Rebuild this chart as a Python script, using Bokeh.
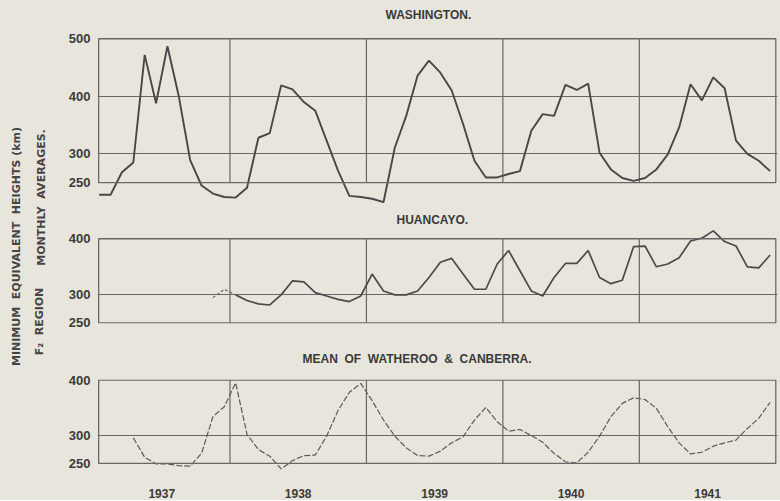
from bokeh.plotting import figure
from bokeh.layouts import row, column
from bokeh.models import FixedTicker, BoxAnnotation, Label, Range1d
from bokeh.embed import file_html
from bokeh.resources import INLINE

PAPER = "#e8e6dc"
INK = "#3a3a3a"
RULE = "#676767"
NAN = float("nan")

# ---- data (monthly averages, km) ----
months = list(range(1, 61))
years = ["1937", "1938", "1939", "1940", "1941"]
year_bounds = [12, 24, 36, 48]
year_centres = [6, 18, 30, 42, 54]

washington = [229, 229, 268, 285, 472, 388, 487, 400, 289, 245, 231, 225,
              224, 241, 328, 336, 419, 412, 390, 375, 323, 271, 227, 225,
              222, 216, 311, 366, 436, 462, 441, 410, 352, 288, 259, 259,
              265, 270, 340, 369, 366, 420, 411, 422, 302, 273, 258, 253,
              258, 273, 299, 346, 421, 393, 433, 414, 323, 300, 288, 270]

huancayo = [NAN, NAN, NAN, NAN, NAN, NAN, NAN, NAN, NAN, NAN, 295, 310,
            300, 290, 284, 282, 300, 325, 323, 304, 298, 292, 288, 298,
            337, 307, 300, 300, 307, 331, 358, 365, 337, 310, 310, 355,
            379, 343, 307, 298, 331, 356, 356, 379, 331, 320, 326, 386,
            387, 350, 355, 366, 396, 401, 414, 395, 387, 350, 348, 371]

watheroo_canberra = [NAN, NAN, NAN, 296, 261, 249, 249, 246, 245, 268, 334, 352,
                     395, 302, 275, 263, 240, 255, 264, 265, 299, 345, 378, 394,
                     363, 328, 299, 278, 264, 263, 272, 287, 298, 328, 351, 325,
                     308, 311, 300, 288, 268, 253, 251, 270, 299, 334, 358, 368,
                     365, 349, 316, 287, 267, 270, 281, 287, 292, 313, 331, 360]

wash_ticks = [250, 300, 400, 500]
huan_ticks = [250, 300, 400]
mean_ticks = [250, 300, 400]

x_pos = [m - 0.5 for m in months]
BOX_LO, BOX_HI = 0.45, 60          # extent of the ruled box (months)
X_LO, X_HI = 0.35, 60.15           # visible range, a hair wider so edges show


def panel(title, ticks, y_lo, y_hi, height, b_top, b_bottom, show_x,
          title_offset, title_standoff):
    p = figure(width=715, height=height, title=title,
               x_range=Range1d(X_LO, X_HI), y_range=Range1d(y_lo, y_hi),
               output_backend="svg", toolbar_location=None,
               x_axis_location="below" if show_x else None,
               min_border_left=30, min_border_right=3,
               min_border_top=b_top, min_border_bottom=b_bottom)
    p.outline_line_color = None
    p.background_fill_color = PAPER
    p.border_fill_color = PAPER
    p.title.align = "left"
    p.title.offset = title_offset
    p.title.standoff = title_standoff
    p.title.text_font = "Liberation Sans"
    p.title.text_font_size = "12px"
    p.title.text_font_style = "bold"
    p.title.text_color = INK

    p.yaxis.ticker = FixedTicker(ticks=ticks)
    p.yaxis.axis_line_color = None
    p.yaxis.major_tick_line_color = None
    p.yaxis.minor_tick_line_color = None
    p.yaxis.major_tick_out = 0
    p.yaxis.major_tick_in = 0
    p.yaxis.minor_tick_out = 0
    p.yaxis.major_label_standoff = 7
    p.yaxis.major_label_text_font = "Liberation Sans"
    p.yaxis.major_label_text_font_size = "13px"
    p.yaxis.major_label_text_font_style = "bold"
    p.yaxis.major_label_text_color = INK

    p.xgrid.visible = False
    p.ygrid.ticker = FixedTicker(ticks=ticks[1:-1])
    p.ygrid.grid_line_color = RULE
    p.ygrid.grid_line_width = 1

    if show_x:
        p.xaxis.ticker = FixedTicker(ticks=year_centres)
        p.xaxis.major_label_overrides = {c: y for c, y in zip(year_centres, years)}
        p.xaxis.axis_line_color = None
        p.xaxis.major_tick_line_color = None
        p.xaxis.minor_tick_line_color = None
        p.xaxis.major_tick_out = 0
        p.xaxis.major_tick_in = 0
        p.xaxis.minor_tick_out = 0
        p.xaxis.major_label_standoff = 19
        p.xaxis.major_label_text_font = "Liberation Sans"
        p.xaxis.major_label_text_font_size = "12px"
        p.xaxis.major_label_text_font_style = "bold"
        p.xaxis.major_label_text_color = INK

    p.add_layout(BoxAnnotation(left=BOX_LO, right=BOX_HI, bottom=ticks[0], top=ticks[-1],
                               fill_alpha=0, line_color=RULE, line_alpha=1,
                               line_width=1.3))
    p.segment(x0=year_bounds, y0=[ticks[0]] * len(year_bounds),
              x1=year_bounds, y1=[ticks[-1]] * len(year_bounds),
              line_color=RULE, line_width=1.2)
    return p


p1 = panel("WASHINGTON.", wash_ticks, 212, 530, 204, 21, 0, False, 288, 0)
p1.line(x_pos, washington, line_color="#474747", line_width=1.9)

p2 = panel("HUANCAYO.", huan_ticks, 249, 420, 126, 23, 7, False, 299, 2)
p2.line(x_pos[10:13], huancayo[10:13], line_color="#6a6a6a", line_width=1.2,
        line_dash="3 2")
p2.line(x_pos[12:], huancayo[12:], line_color="#4a4a4a", line_width=1.7)

p3 = panel("MEAN\u00a0 OF\u00a0 WATHEROO\u00a0 &\u00a0 CANBERRA.", mean_ticks, 239, 401,
           170, 49, 29, True, 205, 27)
p3.line(x_pos, watheroo_canberra, line_color="#5a5a5a", line_width=1.2,
        line_dash="6 2")

lab = figure(width=65, height=500, x_range=Range1d(0, 65), y_range=Range1d(0, 500),
             output_backend="svg", toolbar_location=None,
             x_axis_location=None, y_axis_location=None, min_border=0)
lab.outline_line_color = None
lab.grid.visible = False
lab.background_fill_color = PAPER
lab.border_fill_color = PAPER
common = dict(angle=90, angle_units="deg", text_align="center", text_baseline="middle",
              text_font="DejaVu Sans", text_font_size="11px",
              text_font_style="bold", text_color="#444444")
lab.add_layout(Label(x=16, y=254, text="MINIMUM\u00a0 EQUIVALENT\u00a0 HEIGHTS (km)", **common))
lab.add_layout(Label(x=39, y=179, text="F\u2082\u00a0 REGION", **common))
lab.add_layout(Label(x=41, y=303, text="MONTHLY\u00a0 AVERAGES.", **common))

panels = column(p1, p2, p3, spacing=0, styles={"background-color": PAPER})
layout = row(lab, panels, spacing=0, styles={"background-color": PAPER})

open("out.html", "w").write(file_html(layout, INLINE))
